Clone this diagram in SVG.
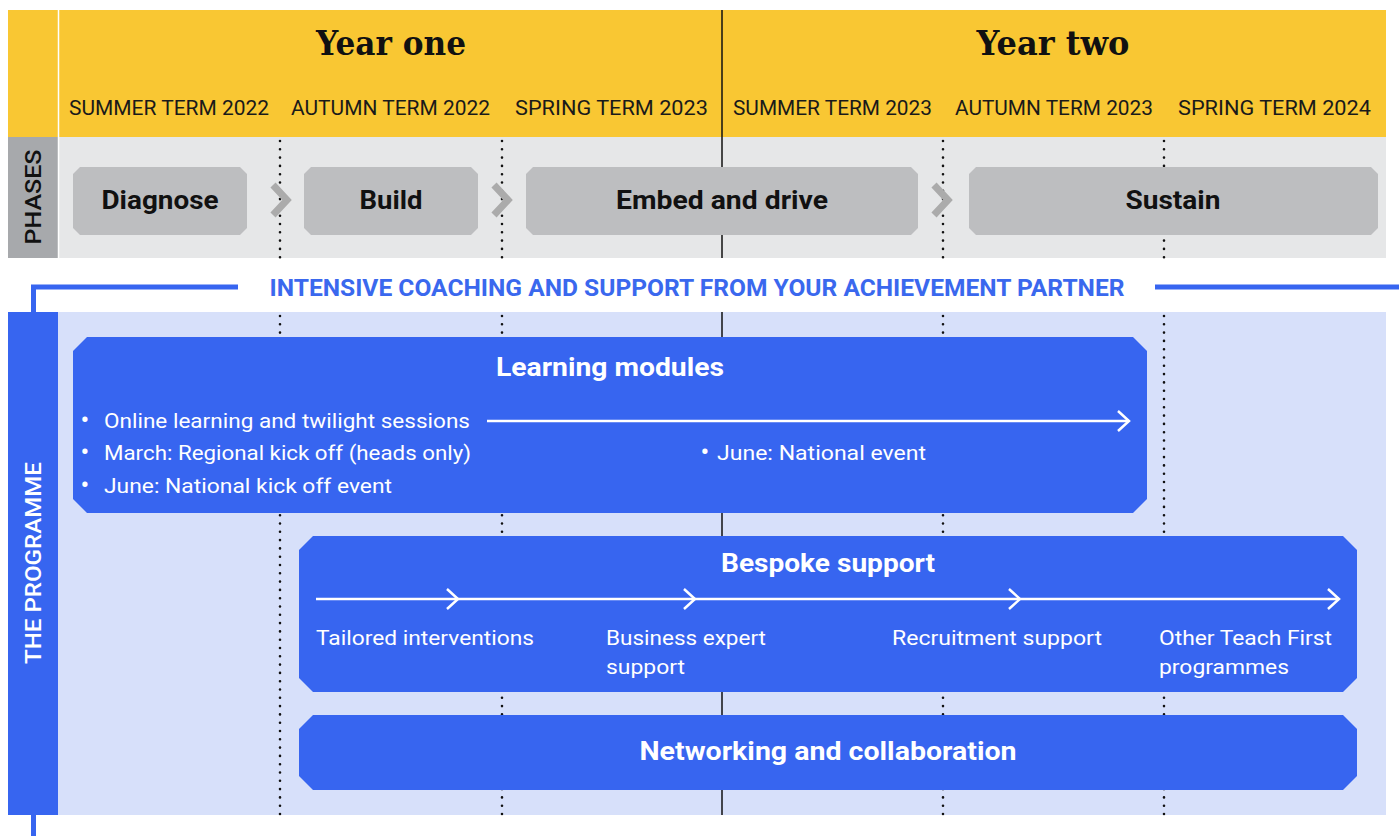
<svg xmlns="http://www.w3.org/2000/svg" width="1399" height="836" viewBox="0 0 1399 836">
<style>
.term{font-family:Roboto,"Liberation Sans",sans-serif;font-size:21px;fill:#1a1a1a;text-anchor:middle}
.year{font-family:"DejaVu Serif","Liberation Serif",serif;font-weight:bold;font-size:34px;fill:#111;text-anchor:middle}
.phase{font-family:Roboto,"Liberation Sans",sans-serif;font-weight:bold;font-size:25px;fill:#111;text-anchor:middle}
.pbox{fill:#BDBEC0}
.chev{fill:none;stroke:#ABABAB;stroke-width:7;stroke-linejoin:miter}
.dot{stroke:#111;stroke-width:2.6;stroke-linecap:round;stroke-dasharray:0 8.3;fill:none}
.solid{stroke:#111;stroke-width:1.5}
.bbox{fill:#3765F0}
.title{font-family:Roboto,"Liberation Sans",sans-serif;font-weight:bold;font-size:25px;fill:#fff;text-anchor:middle}
.body{font-family:Roboto,"Liberation Sans",sans-serif;font-size:21px;fill:#fff}
.bul{font-family:Roboto,"Liberation Sans",sans-serif;font-size:26px;fill:#fff;text-anchor:middle}
.warr{fill:none;stroke:#fff;stroke-width:2.5}
.blue{fill:none;stroke:#3765F0;stroke-width:5}
.vert{font-family:Roboto,"Liberation Sans",sans-serif;font-weight:500;font-size:22px;text-anchor:middle}
</style>
<rect width="1399" height="836" fill="#fff"/>
<!-- header -->
<g id="header">
<rect x="8" y="10" width="1378" height="127" fill="#F9C733"/>
<text class="year" x="391" y="55" textLength="150" lengthAdjust="spacingAndGlyphs">Year one</text>
<text class="year" x="1053" y="55" textLength="153" lengthAdjust="spacingAndGlyphs">Year two</text>
<text class="term" x="169" y="115" textLength="200" lengthAdjust="spacingAndGlyphs">SUMMER TERM 2022</text>
<text class="term" x="390.5" y="115" textLength="199" lengthAdjust="spacingAndGlyphs">AUTUMN TERM 2022</text>
<text class="term" x="611.5" y="115" textLength="193" lengthAdjust="spacingAndGlyphs">SPRING TERM 2023</text>
<text class="term" x="832.5" y="115" textLength="199" lengthAdjust="spacingAndGlyphs">SUMMER TERM 2023</text>
<text class="term" x="1054" y="115" textLength="198" lengthAdjust="spacingAndGlyphs">AUTUMN TERM 2023</text>
<text class="term" x="1274.5" y="115" textLength="193" lengthAdjust="spacingAndGlyphs">SPRING TERM 2024</text>
</g>
<!-- phases band -->
<g id="phases-band">
<rect x="8" y="137" width="1378" height="121" fill="#E6E7E8"/>
<rect x="8" y="137" width="50" height="121" fill="#A7A9AC"/>
<line x1="58.5" y1="10" x2="58.5" y2="258" stroke="#fff" stroke-width="1.5"/>
<text class="vert" transform="translate(41,197) rotate(-90)" fill="#111" font-weight="bold" textLength="95" lengthAdjust="spacingAndGlyphs">PHASES</text>
</g>
<!-- programme area -->
<g id="programme-area">
<rect x="58" y="312" width="1328" height="503" fill="#D7E0FA"/>
<rect x="8" y="312" width="50" height="503" fill="#3765F0"/>
<text class="vert" transform="translate(41,563) rotate(-90)" fill="#fff" textLength="202" lengthAdjust="spacingAndGlyphs">THE PROGRAMME</text>
</g>
<!-- grid lines -->
<g id="grid">
<line class="dot" x1="280" y1="141" x2="280" y2="258"/>
<line class="dot" x1="280" y1="316" x2="280" y2="815"/>
<line class="dot" x1="502" y1="141" x2="502" y2="258"/>
<line class="dot" x1="502" y1="316" x2="502" y2="815"/>
<line class="dot" x1="943" y1="141" x2="943" y2="258"/>
<line class="dot" x1="943" y1="316" x2="943" y2="815"/>
<line class="dot" x1="1164" y1="141" x2="1164" y2="258"/>
<line class="dot" x1="1164" y1="316" x2="1164" y2="815"/>
<line class="solid" x1="722" y1="10" x2="722" y2="258"/>
<line class="solid" x1="722" y1="312" x2="722" y2="815"/>
</g>
<!-- phase nodes -->
<g id="phase-diagnose">
<polygon class="pbox" points="80,167 240,167 247,174 247,228 240,235 80,235 73,228 73,174"/>
<text class="phase" x="160" y="209" textLength="117" lengthAdjust="spacingAndGlyphs">Diagnose</text>
</g>
<g id="phase-build">
<polygon class="pbox" points="311,167 471,167 478,174 478,228 471,235 311,235 304,228 304,174"/>
<text class="phase" x="391" y="209" textLength="63" lengthAdjust="spacingAndGlyphs">Build</text>
</g>
<g id="phase-embed">
<polygon class="pbox" points="533,167 911,167 918,174 918,228 911,235 533,235 526,228 526,174"/>
<text class="phase" x="722" y="209" textLength="212" lengthAdjust="spacingAndGlyphs">Embed and drive</text>
</g>
<g id="phase-sustain">
<polygon class="pbox" points="976,167 1371,167 1378,174 1378,228 1371,235 976,235 969,228 969,174"/>
<text class="phase" x="1173" y="209" textLength="95" lengthAdjust="spacingAndGlyphs">Sustain</text>
</g>
<!-- connectors -->
<g id="connectors">
<polyline class="chev" points="273,185 287,200 273,215"/>
<polyline class="chev" points="494,185 508,200 494,215"/>
<polyline class="chev" points="934,185 948,200 934,215"/>
<polyline class="blue" points="33.5,312 33.5,287 238,287"/>
<line class="blue" x1="1155" y1="287" x2="1399" y2="287"/>
<line class="blue" x1="33.5" y1="815" x2="33.5" y2="836"/>
</g>
<g id="coaching">
<text x="697" y="296" font-family="Roboto,'Liberation Sans',sans-serif" font-weight="bold" font-size="24" fill="#3A68EE" text-anchor="middle" textLength="855" lengthAdjust="spacingAndGlyphs">INTENSIVE COACHING AND SUPPORT FROM YOUR ACHIEVEMENT PARTNER</text>
</g>
<!-- learning modules -->
<g id="learning-modules">
<polygon class="bbox" points="87,337 1133,337 1147,351 1147,499 1133,513 87,513 73,499 73,351"/>
<text class="title" x="610" y="376" textLength="228" lengthAdjust="spacingAndGlyphs">Learning modules</text>
<text class="bul" x="85" y="429">•</text>
<text class="body" x="104" y="428" textLength="366" lengthAdjust="spacingAndGlyphs">Online learning and twilight sessions</text>
<text class="bul" x="85" y="461">•</text>
<text class="body" x="104" y="460" textLength="367" lengthAdjust="spacingAndGlyphs">March: Regional kick off (heads only)</text>
<text class="bul" x="85" y="494">•</text>
<text class="body" x="104" y="493" textLength="288" lengthAdjust="spacingAndGlyphs">June: National kick off event</text>
<text class="bul" x="705" y="461">•</text>
<text class="body" x="717" y="460" textLength="209" lengthAdjust="spacingAndGlyphs">June: National event</text>
<line class="warr" x1="487" y1="421" x2="1129" y2="421"/>
<polyline class="warr" points="1118,411 1129,421 1118,431"/>
</g>
<!-- bespoke support -->
<g id="bespoke-support">
<polygon class="bbox" points="313,536 1343,536 1357,550 1357,678 1343,692 313,692 299,678 299,550"/>
<text class="title" x="828" y="572" textLength="214" lengthAdjust="spacingAndGlyphs">Bespoke support</text>
<line class="warr" x1="316" y1="599" x2="1339" y2="599"/>
<polyline class="warr" points="447,589 458,599 447,609"/>
<polyline class="warr" points="684,589 695,599 684,609"/>
<polyline class="warr" points="1009,589 1020,599 1009,609"/>
<polyline class="warr" points="1328,589 1339,599 1328,609"/>
<text class="body" x="316" y="645" textLength="218" lengthAdjust="spacingAndGlyphs">Tailored interventions</text>
<text class="body" x="606" y="645" textLength="160" lengthAdjust="spacingAndGlyphs">Business expert</text>
<text class="body" x="606" y="674" textLength="79" lengthAdjust="spacingAndGlyphs">support</text>
<text class="body" x="892" y="645" textLength="210" lengthAdjust="spacingAndGlyphs">Recruitment support</text>
<text class="body" x="1159" y="645" textLength="173" lengthAdjust="spacingAndGlyphs">Other Teach First</text>
<text class="body" x="1159" y="674" textLength="130" lengthAdjust="spacingAndGlyphs">programmes</text>
</g>
<!-- networking -->
<g id="networking">
<polygon class="bbox" points="313,715 1343,715 1357,729 1357,776 1343,790 313,790 299,776 299,729"/>
<text class="title" x="828" y="760" textLength="377" lengthAdjust="spacingAndGlyphs">Networking and collaboration</text>
</g>
</svg>
